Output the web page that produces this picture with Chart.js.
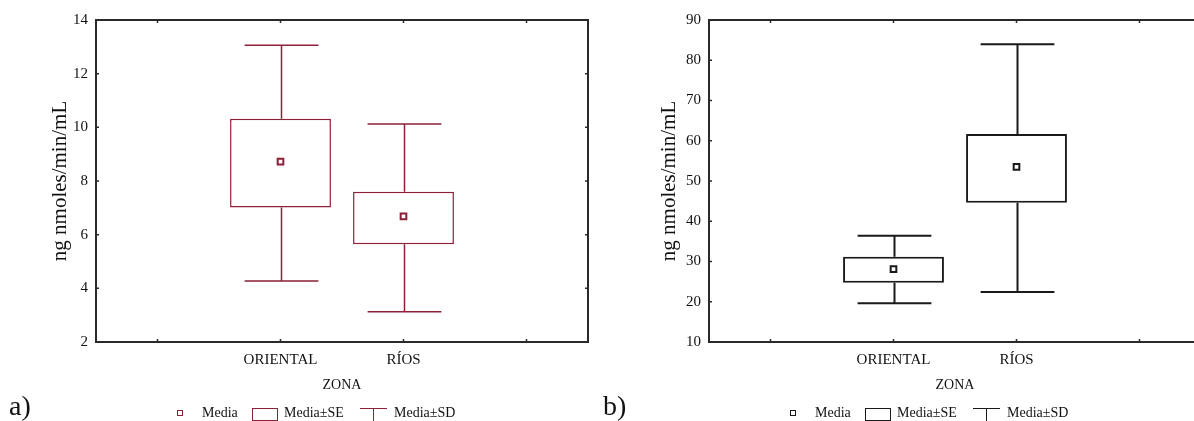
<!DOCTYPE html>
<html>
<head>
<meta charset="utf-8">
<script src="https://cdn.jsdelivr.net/npm/chart.js@4.4.0/dist/chart.umd.min.js"></script>
<style>
  body {
    margin: 0;
    width: 1194px;
    height: 421px;
    overflow: hidden;
    position: relative;
    background: #fff;
    font-family: "Liberation Serif", "DejaVu Serif", serif;
    color: #111;
  }
  canvas { position: absolute; top: 0; }
  #chartA { left: 0; }
  #chartB { left: 600px; }
  .tag { position: absolute; top: 391px; font-size: 28px; line-height: 30px; }
  .leg { position: absolute; top: 404px; height: 18px; font-size: 14px; line-height: 18px; white-space: nowrap; }
  .mark { position: absolute; top: 410px; width: 4px; height: 4px; border: 1.5px solid; background: #fff; }
  .boxicon { position: absolute; top: 408px; width: 24px; height: 11px; border: 1.5px solid; }
  .whisk { position: absolute; top: 408px; width: 27px; height: 13px; border-top: 1.5px solid; }
  .whisk::after { content: ""; position: absolute; left: 12.5px; top: 0; width: 0; height: 13px; border-left: 1.5px solid; }
</style>
</head>
<body>
<canvas id="chartA" width="600" height="400"></canvas>
<canvas id="chartB" width="613" height="400"></canvas>
<div class="tag" style="left:9px">a)</div>
<div class="tag" style="left:603px">b)</div>
<script>
// categories (blank slots at both ends, like the original plot)
const categories = ["", "ORIENTAL", "RÍOS", ""];
const legendLabels = ["Media", "Media±SE", "Media±SD"];

// a) values per zone: ORIENTAL, RÍOS
const meanA = [8.72, 6.68];
const seLowA = [7.01, 5.64];
const seHighA = [10.32, 7.6];
const sdLowA = [4.27, 3.13];
const sdHighA = [13.06, 10.12];
const yTicksA = [2, 4, 6, 8, 10, 12, 14];

// b) values per zone: ORIENTAL, RÍOS
const meanB = [28.1, 53.5];
const seLowB = [24.7, 44.6];
const seHighB = [31.2, 61.7];
const sdLowB = [19.6, 22.4];
const sdHighB = [36.4, 84.0];
const yTicksB = [10, 20, 30, 40, 50, 60, 70, 80, 90];

const FONT = "'Liberation Serif', 'DejaVu Serif', serif";
const TEXT = "#111";

// put the two zones in the middle slots
function pad(arr) {
  return [null, ...arr, null];
}

// whiskers, frame and little inward ticks
const boxExtras = {
  id: "boxExtras",
  beforeDatasetsDraw(chart, args, opts) {
    const { ctx } = chart;
    const x = chart.scales.x;
    const y = chart.scales.y;
    const step = x.getPixelForValue(1) - x.getPixelForValue(0);
    const half = (step * opts.capFraction) / 2;
    ctx.save();
    ctx.strokeStyle = opts.color;
    ctx.lineWidth = opts.lineWidth;
    for (let i = 0; i < opts.sdLow.length; i++) {
      if (opts.sdLow[i] === null) continue;
      const cx = Math.round(x.getPixelForValue(i)) + 0.5;
      const yTop = y.getPixelForValue(opts.sdHigh[i]);
      const yBot = y.getPixelForValue(opts.sdLow[i]);
      const yBoxTop = y.getPixelForValue(opts.seHigh[i]);
      const yBoxBot = y.getPixelForValue(opts.seLow[i]);
      ctx.beginPath();
      ctx.moveTo(cx, yBoxTop);
      ctx.lineTo(cx, yTop);
      ctx.moveTo(cx - half, yTop);
      ctx.lineTo(cx + half, yTop);
      ctx.moveTo(cx, yBoxBot);
      ctx.lineTo(cx, yBot);
      ctx.moveTo(cx - half, yBot);
      ctx.lineTo(cx + half, yBot);
      ctx.stroke();
    }
    ctx.restore();
  },
  afterDraw(chart) {
    const { ctx, chartArea: a } = chart;
    const x = chart.scales.x;
    const y = chart.scales.y;
    ctx.save();
    ctx.strokeStyle = "#2a2a2a";
    ctx.lineWidth = 2;
    ctx.strokeRect(a.left, a.top, a.right - a.left, a.bottom - a.top);
    ctx.lineWidth = 1.5;
    ctx.beginPath();
    x.ticks.forEach((t, i) => {
      const px = x.getPixelForTick(i);
      ctx.moveTo(px, a.bottom);
      ctx.lineTo(px, a.bottom - 3);
      ctx.moveTo(px, a.top);
      ctx.lineTo(px, a.top + 3);
    });
    y.ticks.forEach((t, i) => {
      const py = y.getPixelForTick(i);
      ctx.moveTo(a.left, py);
      ctx.lineTo(a.left + 3, py);
      ctx.moveTo(a.right, py);
      ctx.lineTo(a.right - 3, py);
    });
    ctx.stroke();
    ctx.restore();
  },
};

function makeChart(id, color, mean, seLow, seHigh, sdLow, sdHigh, yTicks, yWidth, titlePad, rightPad, lineW) {
  const boxes = pad(seLow.map((lo, i) => [lo, seHigh[i]]));
  return new Chart(document.getElementById(id), {
    type: "bar",
    data: {
      labels: categories,
      datasets: [
        {
          type: "line",
          label: legendLabels[0],
          data: pad(mean),
          showLine: false,
          pointStyle: "rect",
          pointRadius: 4,
          pointBorderWidth: 2,
          pointBorderColor: color,
          pointBackgroundColor: "#fff",
          order: 0,
        },
        {
          label: legendLabels[1],
          data: boxes,
          backgroundColor: "#fff",
          borderColor: color,
          borderWidth: lineW,
          borderSkipped: false,
          categoryPercentage: 1,
          barPercentage: 0.82,
          order: 1,
        },
      ],
    },
    options: {
      responsive: false,
      animation: false,
      devicePixelRatio: 1,
      layout: { padding: { top: 20, right: rightPad, bottom: 0, left: 0 } },
      plugins: {
        legend: { display: false },
        tooltip: { enabled: false },
        boxExtras: {
          color: color,
          lineWidth: lineW,
          capFraction: 0.6,
          sdLow: pad(sdLow),
          sdHigh: pad(sdHigh),
          seLow: pad(seLow),
          seHigh: pad(seHigh),
        },
      },
      scales: {
        x: {
          offset: true,
          grid: { display: false, drawTicks: false },
          border: { display: false },
          ticks: { padding: 9, color: TEXT, font: { family: FONT, size: 15 } },
          title: {
            display: true,
            text: "ZONA",
            color: TEXT,
            font: { family: FONT, size: 14 },
            padding: { top: 0, bottom: 6 },
          },
          afterFit(scale) {
            scale.height = 58;
          },
        },
        y: {
          min: yTicks[0],
          max: yTicks[yTicks.length - 1],
          afterBuildTicks(scale) {
            scale.ticks = yTicks.map((v) => ({ value: v }));
          },
          grid: { display: false, drawTicks: false },
          border: { display: false },
          ticks: { padding: 8, color: TEXT, font: { family: FONT, size: 15 } },
          title: {
            display: true,
            text: "ng nmoles/min/mL",
            color: TEXT,
            font: { family: FONT, size: 21 },
            padding: { top: titlePad, bottom: 0 },
          },
          afterFit(scale) {
            scale.width = yWidth;
          },
        },
      },
    },
    plugins: [boxExtras],
  });
}

makeChart("chartA", "#8c2038", meanA, seLowA, seHighA, sdLowA, sdHighA, yTicksA, 96, 48, 12, 1.5);
makeChart("chartB", "#1a1a1a", meanB, seLowB, seHighB, sdLowB, sdHighB, yTicksB, 109, 57, 12, 2);

// legend below each plot
function addLegend(plotLeft, color) {
  const parts = [
    { cls: "mark", left: 81 },
    { text: legendLabels[0], left: 106 },
    { cls: "boxicon", left: 156 },
    { text: legendLabels[1], left: 188 },
    { cls: "whisk", left: 264 },
    { text: legendLabels[2], left: 298 },
  ];
  parts.forEach((p) => {
    const el = document.createElement("div");
    if (p.text) {
      el.className = "leg";
      el.textContent = p.text;
    } else {
      el.className = p.cls;
      el.style.borderColor = color;
      el.style.color = color;
    }
    el.style.left = plotLeft + p.left + "px";
    document.body.appendChild(el);
  });
}

addLegend(96, "#8c2038");
addLegend(709, "#1a1a1a");
</script>
</body>
</html>
